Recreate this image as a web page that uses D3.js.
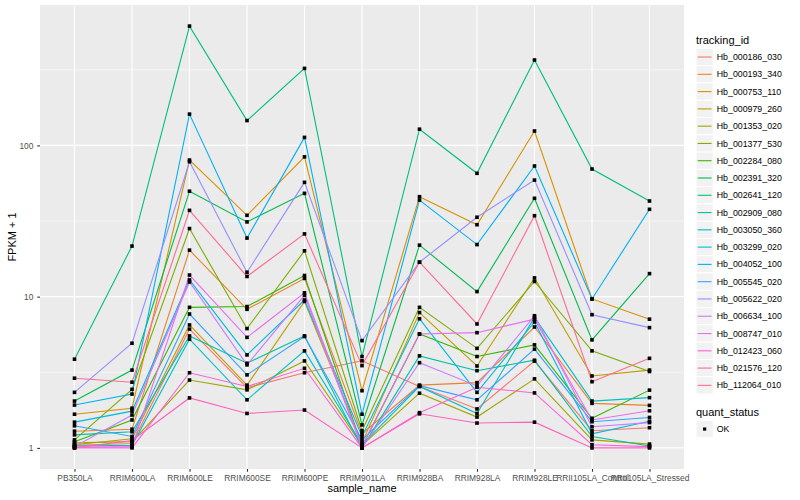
<!DOCTYPE html>
<html lang="en">
<head>
	<script src="https://d3js.org/d3.v7.min.js"></script>
	<style>
		body { margin: 0; background: #fff; }
		text { font-family: "Liberation Sans", Arial, Helvetica, sans-serif; }
	</style>
</head>
<body>
	<script type="text/javascript">

		// sample names on the x axis
		var samples = ["PB350LA", "RRIM600LA", "RRIM600LE", "RRIM600SE", "RRIM600PE", "RRIM901LA",
			"RRIM928BA", "RRIM928LA", "RRIM928LE", "RRII105LA_Control", "RRII105LA_Stressed"];

		var trackingIds = ["Hb_000186_030", "Hb_000193_340", "Hb_000753_110", "Hb_000979_260", "Hb_001353_020",
			"Hb_001377_530", "Hb_002284_080", "Hb_002391_320", "Hb_002641_120", "Hb_002909_080",
			"Hb_003050_360", "Hb_003299_020", "Hb_004052_100", "Hb_005545_020", "Hb_005622_020",
			"Hb_006634_100", "Hb_008747_010", "Hb_012423_060", "Hb_021576_120", "Hb_112064_010"];

		// FPKM + 1 per sample (same order as samples)
		var hb_000186_030 = [1.04, 1.07, 6.1, 2.5, 3.14, 3.77, 2.55, 1.81, 3.75, 1.3, 1.36];
		var hb_000193_340 = [1.29, 1.33, 20.3, 8.25, 13.2, 1.24, 2.6, 2.7, 6.3, 1.97, 1.91];
		var hb_000753_110 = [1.67, 1.83, 80, 34.5, 84, 2.39, 45.8, 29.9, 124.5, 9.66, 7.1];
		var hb_000979_260 = [1.05, 1.15, 6.5, 2.6, 9.3, 1.08, 7.85, 3.48, 13.3, 2.99, 3.27];
		var hb_001353_020 = [1.08, 1.1, 2.81, 2.42, 3.76, 1.04, 2.3, 1.6, 2.86, 1.13, 1.06];
		var hb_001377_530 = [1.13, 2.44, 28.2, 6.15, 20.1, 1.3, 8.5, 4.55, 12.6, 4.38, 3.2];
		var hb_002284_080 = [1.1, 1.53, 8.5, 8.6, 13.8, 1.02, 5.66, 4.02, 4.8, 1.57, 2.41];
		var hb_002391_320 = [2.04, 3.27, 49.8, 31.2, 48.2, 1.42, 21.9, 10.8, 44.7, 5.18, 14.2];
		var hb_002641_120 = [3.86, 21.6, 615, 146, 323, 4.02, 128, 65.4, 367, 69.8, 42.9];
		var hb_002909_080 = [1.22, 1.28, 5.5, 3.63, 5.5, 1.0, 4.06, 3.24, 3.8, 1.19, 1.03];
		var hb_003050_360 = [1.03, 1.04, 5.23, 2.08, 4.38, 1.05, 2.55, 1.69, 7.3, 2.04, 2.15];
		var hb_003299_020 = [1.48, 1.75, 12.9, 4.12, 9.5, 1.19, 7.14, 2.33, 6.8, 1.24, 1.5];
		var hb_004052_100 = [1.92, 2.27, 161, 24.4, 113, 1.67, 43.5, 22.1, 73.1, 9.66, 37.8];
		var hb_005545_020 = [1.4, 1.19, 7.68, 3.04, 5.45, 1.13, 2.58, 2.08, 4.5, 1.49, 1.59];
		var hb_005622_020 = [2.33, 4.92, 78, 14.5, 57, 5.12, 16.9, 33.5, 59, 7.6, 6.24];
		var hb_006634_100 = [1.02, 1.65, 12.5, 3.54, 10.2, 1.0, 3.66, 2.57, 7.48, 1.38, 1.47];
		var hb_008747_010 = [1.01, 1.02, 13.9, 5.38, 10.6, 1.03, 5.66, 5.78, 7.1, 1.53, 1.76];
		var hb_012423_060 = [1.0, 1.0, 3.14, 2.55, 3.36, 1.0, 1.71, 2.52, 2.31, 1.05, 1.02];
		var hb_021576_120 = [1.0, 1.12, 2.14, 1.69, 1.78, 1.0, 1.68, 1.46, 1.48, 1.0, 1.0];
		var hb_112064_010 = [2.89, 2.72, 37.2, 13.6, 26, 3.5, 16.9, 6.6, 34.3, 2.74, 3.91];

		var seriesValues = [hb_000186_030, hb_000193_340, hb_000753_110, hb_000979_260, hb_001353_020,
			hb_001377_530, hb_002284_080, hb_002391_320, hb_002641_120, hb_002909_080,
			hb_003050_360, hb_003299_020, hb_004052_100, hb_005545_020, hb_005622_020,
			hb_006634_100, hb_008747_010, hb_012423_060, hb_021576_120, hb_112064_010];

		var yTicks = [1, 10, 100];
		var quantStatus = ["OK"];

		// ggplot hue palette for 20 levels
		var palette = ["#F8766D", "#EA8331", "#D89000", "#C09B00", "#A3A500", "#7CAE00", "#39B600", "#00BB4E",
			"#00BF7D", "#00C1A3", "#00BFC4", "#00BAE0", "#00B0F6", "#35A2FF", "#9590FF", "#C77CFF",
			"#E76BF3", "#FA62DB", "#FF62BC", "#FF6C91"];

		var svgWidth = 800, svgHeight = 500;
		var panel = {left: 40, right: 684, top: 5, bottom: 469};

		var svg = d3.select("body")
			.append("svg")
			.attr("width", svgWidth)
			.attr("height", svgHeight);

		var series = trackingIds.map(function(id, i) {
			return {id: id, color: palette[i], values: seriesValues[i].map(function(v, j) {
				return {sample: samples[j], value: v};
			})};
		});

		// x: discrete, ggplot expands by 0.6 of a step on each side
		var x = d3.scalePoint()
			.domain(samples)
			.range([panel.left, panel.right])
			.padding(0.6);

		// y: log10 with 5% expansion in log space
		var allVals = d3.merge(seriesValues);
		var lo = Math.log10(d3.min(allVals)), hi = Math.log10(d3.max(allVals));
		var pad = (hi - lo) * 0.05;
		var y = d3.scaleLog()
			.domain([Math.pow(10, lo - pad), Math.pow(10, hi + pad)])
			.range([panel.bottom, panel.top]);

		// panel background
		svg.append("rect")
			.attr("x", panel.left).attr("y", panel.top)
			.attr("width", panel.right - panel.left).attr("height", panel.bottom - panel.top)
			.attr("fill", "#EBEBEB");

		// minor grid at midpoints between decades
		var minor = [Math.sqrt(10), Math.sqrt(1000), Math.sqrt(100000)];
		svg.selectAll(".minor")
			.data(minor)
			.enter()
			.append("line")
				.attr("x1", panel.left).attr("x2", panel.right)
				.attr("y1", function(d) { return y(d); })
				.attr("y2", function(d) { return y(d); })
				.attr("stroke", "#fff")
				.attr("stroke-width", 0.55);

		svg.selectAll(".hmajor")
			.data(yTicks)
			.enter()
			.append("line")
				.attr("x1", panel.left).attr("x2", panel.right)
				.attr("y1", function(d) { return y(d); })
				.attr("y2", function(d) { return y(d); })
				.attr("stroke", "#fff")
				.attr("stroke-width", 1.1);

		svg.selectAll(".vmajor")
			.data(samples)
			.enter()
			.append("line")
				.attr("x1", function(d) { return x(d); })
				.attr("x2", function(d) { return x(d); })
				.attr("y1", panel.top).attr("y2", panel.bottom)
				.attr("stroke", "#fff")
				.attr("stroke-width", 1.1);

		// axes
		var xAxis = d3.axisBottom(x).tickSize(2.75).tickPadding(3);
		var gx = svg.append("g")
			.attr("transform", "translate(0," + panel.bottom + ")")
			.call(xAxis);
		gx.select(".domain").remove();
		gx.selectAll("line").attr("stroke", "#333333").attr("stroke-width", 1.1);
		gx.selectAll("text")
			.attr("fill", "#4D4D4D")
			.style("font-size", "8.4px")
			.attr("dy", "0.72em");

		var yAxis = d3.axisLeft(y).tickValues(yTicks).tickFormat(d3.format("d")).tickSize(2.75).tickPadding(4);
		var gy = svg.append("g")
			.attr("transform", "translate(" + panel.left + ",0)")
			.call(yAxis);
		gy.select(".domain").remove();
		gy.selectAll("line").attr("stroke", "#333333").attr("stroke-width", 1.1);
		gy.selectAll("text")
			.attr("fill", "#4D4D4D")
			.style("font-size", "8.3px");

		// axis titles
		svg.append("text")
			.attr("x", (panel.left + panel.right) / 2)
			.attr("y", 492)
			.attr("text-anchor", "middle")
			.style("font-size", "11px")
			.text("sample_name");

		svg.append("text")
			.attr("transform", "translate(16," + ((panel.top + panel.bottom) / 2) + ") rotate(-90)")
			.attr("text-anchor", "middle")
			.style("font-size", "11px")
			.text("FPKM + 1");

		// lines
		var line = d3.line()
			.x(function(d) { return x(d.sample); })
			.y(function(d) { return y(d.value); });

		svg.selectAll(".series")
			.data(series)
			.enter()
			.append("path")
				.attr("d", function(d) { return line(d.values); })
				.attr("fill", "none")
				.attr("stroke", function(d) { return d.color; })
				.attr("stroke-width", 1.1);

		// points on top
		var pts = d3.merge(series.map(function(s) { return s.values; }));
		svg.selectAll(".pt")
			.data(pts)
			.enter()
			.append("rect")
				.attr("x", function(d) { return x(d.sample) - 1.8; })
				.attr("y", function(d) { return y(d.value) - 1.8; })
				.attr("width", 3.6)
				.attr("height", 3.6)
				.attr("fill", "#000");

		// legend: tracking_id
		var legX = 696, keySize = 17.28, firstKeyTop = 48.4;
		svg.append("text")
			.attr("x", legX).attr("y", 44)
			.style("font-size", "11px")
			.text("tracking_id");

		var keys = svg.selectAll(".key")
			.data(series)
			.enter()
			.append("g")
				.attr("transform", function(d, i) { return "translate(" + legX + "," + (firstKeyTop + i * keySize) + ")"; });

		keys.append("rect")
			.attr("width", keySize).attr("height", keySize)
			.attr("fill", "#F2F2F2")
			.attr("stroke", "#fff")
			.attr("stroke-width", 1);
		keys.append("line")
			.attr("x1", 1.7).attr("x2", keySize - 1.7)
			.attr("y1", keySize / 2).attr("y2", keySize / 2)
			.attr("stroke", function(d) { return d.color; })
			.attr("stroke-width", 1.1);
		keys.append("text")
			.attr("x", keySize + 3.5)
			.attr("y", keySize / 2 + 3.1)
			.style("font-size", "8.8px")
			.text(function(d) { return d.id; });

		// legend: quant_status
		svg.append("text")
			.attr("x", legX).attr("y", 416)
			.style("font-size", "11px")
			.text("quant_status");

		var qk = svg.selectAll(".qkey")
			.data(quantStatus)
			.enter()
			.append("g")
				.attr("transform", function(d, i) { return "translate(" + legX + "," + (420.4 + i * keySize) + ")"; });
		qk.append("rect")
			.attr("width", keySize).attr("height", keySize)
			.attr("fill", "#F2F2F2")
			.attr("stroke", "#fff");
		qk.append("rect")
			.attr("x", keySize / 2 - 1.6).attr("y", keySize / 2 - 1.6)
			.attr("width", 3.2).attr("height", 3.2)
			.attr("fill", "#000");
		qk.append("text")
			.attr("x", keySize + 3.5)
			.attr("y", keySize / 2 + 3.1)
			.style("font-size", "8.8px")
			.text(function(d) { return d; });

	</script>
</body>
</html>
